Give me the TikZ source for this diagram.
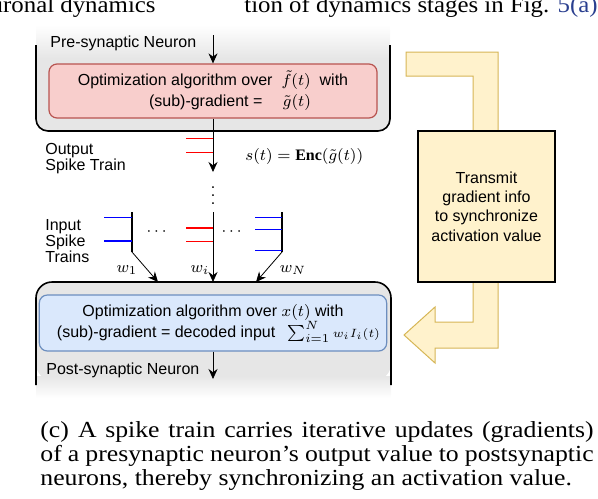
\documentclass[tikz,border=0pt]{standalone}
\usepackage{fontspec}
\setmainfont{Liberation Serif}
\setsansfont{Liberation Sans}
\usepackage{amsmath}
\usetikzlibrary{arrows.meta,positioning}
\tikzset{>={Stealth[length=5pt,width=4.5pt]}}
\definecolor{prefill}{HTML}{F8CECC}
\definecolor{preline}{HTML}{B85450}
\definecolor{postfill}{HTML}{DAE8FC}
\definecolor{postline}{HTML}{6C8EBF}
\definecolor{yelfill}{HTML}{FFF2CC}
\definecolor{yelline}{HTML}{D6B656}
\definecolor{neurongray}{HTML}{E6E6E6}
\definecolor{linkblue}{HTML}{2A3F8F}
\newcommand{\capline}[1]{\scalebox{1.12}[1]{#1}}

\begin{document}
\begin{tikzpicture}[x=0.5pt,y=-0.5pt,
    font=\sffamily\fontsize{8}{10.5}\selectfont,
    algobox/.style={draw, rounded corners=4pt, line width=0.6pt, minimum width=164pt, align=center},
    spikered/.style={red, line width=0.5pt},
    spikeblue/.style={blue, line width=0.5pt},
    captext/.style={anchor=base west, inner sep=0pt, font=\rmfamily\fontsize{11.5}{13}\selectfont}]
        \clip (0,0) rectangle (598,498);

        %text of the page above
        \node[captext, anchor=base east] (pageA) at (156,12) {\scalebox{1.08}[1]{uronal dynamics}};
        \node[captext, anchor=base east] (pageB) at (598,12) {\scalebox{1.08}[1]{tion of dynamics stages in Fig. \textcolor{linkblue}{5(a)}}};

        %pre-synaptic neuron
        \fill[neurongray, rounded corners=6pt] (36,40) -- (36,131) -- (390,131) -- (390,40) -- cycle;
        \shade[top color=white, bottom color=neurongray] (36,25) rectangle (390,58);
        \draw[line width=0.8pt, rounded corners=6pt] (36,45) -- (36,131) -- (390,131) -- (390,45);

        %post-synaptic neuron
        \fill[neurongray, rounded corners=8pt] (36,282) -- (391,282) -- (391,380) -- (36,380) -- cycle;
        \shade[top color=neurongray, bottom color=white] (36,376) rectangle (391,398);
        \draw[line width=0.8pt, rounded corners=8pt] (36,385) -- (36,282) -- (391,282) -- (391,385);

        %optimization boxes
        \node[algobox, fill=prefill, draw=preline, minimum height=27pt] (prebox) at (213,91)
            {Optimization algorithm over \ $\tilde{f}(t)$ \ with\\ \hspace*{17pt}(sub)-gradient = \quad$\tilde{g}(t)$};
        \node[algobox, fill=postfill, draw=postline, minimum height=28pt] (postbox) at (213,323)
            {Optimization algorithm over $x(t)$ with\\ \hspace*{5.5pt}(sub)-gradient = decoded input\hspace{6pt}$\sum_{i=1}^{N}\scriptstyle w_i I_i(t)$};

        \node[anchor=west, inner sep=0pt] (prelabel) at (50,43) {Pre-synaptic Neuron};
        \node[anchor=west, inner sep=0pt] (postlabel) at (46,370) {Post-synaptic Neuron};

        \coordinate (prein) at (213,35);
        \coordinate (postout) at (213,379);
        \draw[->] (prein) -- (prebox.north);
        \draw[->] (postbox.south) -- (postout);

        %output spike train
        \coordinate (outtip) at (213,172);
        \draw[->] (prebox.south) -- (outtip);
        \draw[spikered] (186,138) -- (213,138);
        \draw[spikered] (186,152) -- (213,152);
        \node[anchor=west, align=left, inner sep=0pt, font=\sffamily\fontsize{8}{8}\selectfont] (outlabel) at (45,159) {Output\\Spike Train};
        \node[anchor=west, inner sep=0pt] (enc) at (245,156) {$s(t) = \mathbf{Enc}(\tilde{g}(t))$};
        \node (vdots) at (213,190) {$\vdots$};

        %input spike trains
        \coordinate (tr1) at (132,252);
        \coordinate (trN) at (282,252);
        \coordinate (tri) at (213,212);
        \coordinate (w1tip) at (158,282);
        \coordinate (witip) at (213,282);
        \coordinate (wNtip) at (256,282);
        \draw[line width=0.6pt] (132,212) -- (tr1);
        \draw[line width=0.9pt] (282,212) -- (trN);
        \draw[spikeblue] (104,217) -- (132,217);
        \draw[spikeblue, line width=1.2pt] (104,241) -- (132,241);
        \draw[spikered, line width=1.2pt] (186,228) -- (213,228);
        \draw[spikered] (186,241) -- (213,241);
        \draw[spikeblue] (255,217) -- (282,217);
        \draw[spikeblue] (255,229) -- (282,229);
        \draw[spikeblue] (255,250) -- (282,250);
        \node (dotsA) at (158,232) {$\cdots$};
        \node (dotsB) at (233,232) {$\cdots$};
        \node[anchor=west, align=left, inner sep=0pt, font=\sffamily\fontsize{8}{8}\selectfont] (inlabel) at (45,241) {Input\\Spike\\Trains};

        \draw[->] (tr1) -- (w1tip);
        \draw[->] (tri) -- (witip);
        \draw[->] (trN) -- (wNtip);
        \node (w1) at (127,270) {$w_1$};
        \node (wi) at (200,270) {$w_i$};
        \node (wN) at (293,270) {$w_N$};

        %transmit arrow
        \draw[yelline, fill=yelfill, line width=0.5pt] (406,52) -- (498,52) -- (498,348) -- (435,348) -- (435,363)
            -- (404,335) -- (435,307) -- (435,322) -- (473,322) -- (473,76) -- (406,76) -- cycle;
        \node[draw, fill=yelfill, line width=0.6pt, minimum width=68.5pt, minimum height=75.5pt, align=center,
            font=\sffamily\fontsize{8}{9.6}\selectfont] (transmit) at (486.5,206.5)
            {Transmit\\gradient info\\to synchronize\\activation value};

        %caption
        \node[captext] (capA) at (40,437) {\capline{\makebox[247pt][s]{(c)\hspace{0.35em}A spike train carries iterative updates (gradients)}}};
        \node[captext] (capB) at (40,461) {\capline{\makebox[247pt][s]{of a presynaptic neuron’s output value to postsynaptic}}};
        \node[captext] (capC) at (40,485) {\capline{neurons, thereby synchronizing an activation value.}};
\end{tikzpicture}
\end{document}
